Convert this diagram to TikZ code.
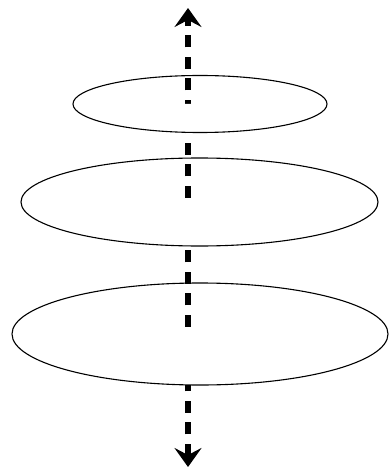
\documentclass[tikz,border=0pt]{standalone}
\usetikzlibrary{arrows.meta}
\tikzset{
  axis/.style={line width=6.5pt, dash pattern=on 12pt off 9.5pt,
    {Stealth[width=27pt,length=19pt,inset=7pt]}-{Stealth[width=27pt,length=19pt,inset=7pt]}},
  rim/.style={line width=1.1pt},
  front/.style={fill=white},
}
\begin{document}
\begin{tikzpicture}[x=1pt,y=-1pt]
\useasboundingbox (0,0) rectangle (390,470);
\coordinate (top) at (188,8);
\coordinate (bottom) at (188,467);
\draw[axis] (bottom) -- (top);

% lower halves hide the axis
\fill[front] (327,104) arc (0:180:127 and 28.5) -- cycle;
\fill[front] (378,202) arc (0:180:178.5 and 44) -- cycle;
\fill[front] (388,334) arc (0:180:188 and 51) -- cycle;

\draw[rim] (200,104) ellipse (127 and 28.5);
\draw[rim] (199.5,202) ellipse (178.5 and 44);
\draw[rim] (200,334) ellipse (188 and 51);
\end{tikzpicture}
\end{document}
